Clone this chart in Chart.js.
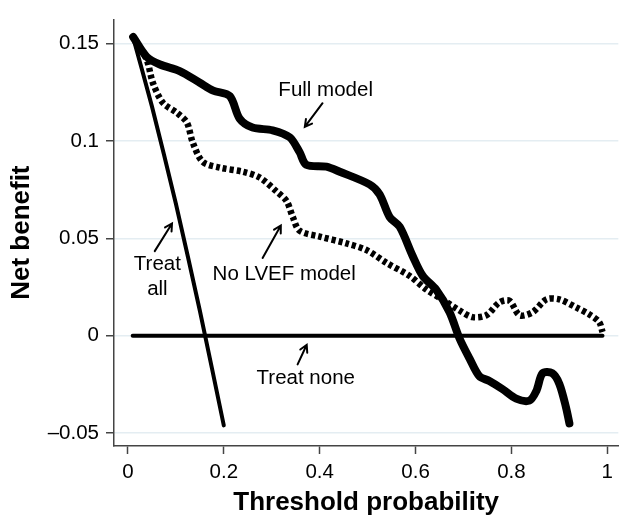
<!DOCTYPE html>
<html>
<head>
<meta charset="utf-8">
<script src="https://cdn.jsdelivr.net/npm/chart.js@4.4.1/dist/chart.umd.min.js"></script>
<style>
  html, body { margin: 0; padding: 0; background: #fff; }
  #wrap { width: 619px; height: 516px; position: relative; }
</style>
</head>
<body>
<div id="wrap"><canvas id="myChart"></canvas></div>
<script>
// tick labels
var xTicks = [0, 0.2, 0.4, 0.6, 0.8, 1]
var xTickLabels = ['0', '0.2', '0.4', '0.6', '0.8', '1']
var yTicks = [-0.05, 0, 0.05, 0.1, 0.15]
var yTickLabels = ['\u20130.05', '0', '0.05', '0.1', '0.15']

// series
var fullX = [0.011, 0.039, 0.067, 0.108, 0.15, 0.178, 0.2125, 0.233, 0.26, 0.302, 0.3375, 0.358, 0.372, 0.414, 0.442, 0.504, 0.525, 0.546, 0.567, 0.594, 0.615, 0.643, 0.671, 0.692, 0.7125, 0.733, 0.754, 0.781, 0.81, 0.8375, 0.852, 0.865, 0.885, 0.9, 0.914, 0.921]
var fullY = [0.1535, 0.1434, 0.1394, 0.136, 0.130, 0.126, 0.1232, 0.1116, 0.107, 0.1056, 0.102, 0.0944, 0.0879, 0.0869, 0.0843, 0.0778, 0.0727, 0.061, 0.056, 0.041, 0.0308, 0.0237, 0.0121, -0.0015, -0.0116, -0.0207, -0.0232, -0.0273, -0.0323, -0.0333, -0.0283, -0.0192, -0.0192, -0.0247, -0.0369, -0.045]

var lvefX = [0.011, 0.039, 0.052, 0.073, 0.102, 0.123, 0.135, 0.156, 0.192, 0.24, 0.275, 0.31, 0.331, 0.344, 0.358, 0.4, 0.456, 0.498, 0.54, 0.5875, 0.623, 0.656, 0.692, 0.719, 0.748, 0.775, 0.796, 0.817, 0.844, 0.873, 0.9, 0.935, 0.9625, 0.983, 0.99]
var lvefY = [0.1535, 0.142, 0.130, 0.1197, 0.1146, 0.1096, 0.0995, 0.0894, 0.0864, 0.0843, 0.0813, 0.0742, 0.0692, 0.061, 0.054, 0.051, 0.0475, 0.044, 0.0374, 0.0308, 0.0237, 0.0187, 0.013, 0.0096, 0.0106, 0.0172, 0.018, 0.0106, 0.0121, 0.0187, 0.0187, 0.0146, 0.011, 0.0071, 0.002]

var allX = [0.01, 0.05, 0.10, 0.15, 0.20]
var allY = [0.154, 0.118, 0.068, 0.013, -0.046]

var noneX = [0.01, 0.99]
var noneY = [0, 0]

// labels: text, text x/y, arrow tail x/y, arrow tip x/y (data units)
var notes = [
  { text: ['Full model'], x: 0.4125, y: 0.126, ax: 0.406, ay: 0.1195, bx: 0.369, by: 0.1073 },
  { text: ['No LVEF model'], x: 0.326, y: 0.0314, ax: 0.281, ay: 0.040, bx: 0.319, by: 0.0567 },
  { text: ['Treat', 'all'], x: 0.0615, y: 0.0365, ax: 0.056, ay: 0.0435, bx: 0.092, by: 0.0577 },
  { text: ['Treat none'], x: 0.371, y: -0.0218, ax: 0.354, ay: -0.0147, bx: 0.373, by: -0.0046 }
]

function pares(xs, ys) {
  return xs.map(function (v, i) { return { x: v, y: ys[i] } })
}

var notasPlugin = {
  id: 'notas',
  afterDatasetsDraw: function (chart) {
    var c = chart.ctx
    var sx = chart.scales.x
    var sy = chart.scales.y
    c.save()
    c.fillStyle = '#000'
    c.strokeStyle = '#000'
    c.font = '20.5px "Liberation Sans", Arial, sans-serif'
    c.textAlign = 'center'
    c.textBaseline = 'middle'
    notes.forEach(function (n) {
      var px = sx.getPixelForValue(n.x)
      var py = sy.getPixelForValue(n.y)
      n.text.forEach(function (t, i) {
        c.fillText(t, px, py + i * 25)
      })
      var x1 = sx.getPixelForValue(n.ax), y1 = sy.getPixelForValue(n.ay)
      var x2 = sx.getPixelForValue(n.bx), y2 = sy.getPixelForValue(n.by)
      c.lineWidth = 2
      c.lineCap = 'round'
      c.beginPath()
      c.moveTo(x1, y1)
      c.lineTo(x2, y2)
      var ang = Math.atan2(y2 - y1, x2 - x1)
      c.moveTo(x2 - 8 * Math.cos(ang - 0.5), y2 - 8 * Math.sin(ang - 0.5))
      c.lineTo(x2, y2)
      c.lineTo(x2 - 8 * Math.cos(ang + 0.5), y2 - 8 * Math.sin(ang + 0.5))
      c.stroke()
    })
    c.restore()
  }
}

const ctx = document.getElementById('myChart')

new Chart(ctx, {
  type: 'line',
  data: {
    datasets: [
      { label: 'Treat none', data: pares(noneX, noneY), borderColor: '#000', borderWidth: 4, borderCapStyle: 'round', pointRadius: 0, tension: 0 },
      { label: 'Treat all', data: pares(allX, allY), borderColor: '#000', borderWidth: 4, borderCapStyle: 'round', pointRadius: 0, tension: 0.2 },
      { label: 'No LVEF model', data: pares(lvefX, lvefY), borderColor: '#000', borderWidth: 6.5, borderDash: [4, 3], pointRadius: 0, tension: 0.3 },
      { label: 'Full model', data: pares(fullX, fullY), borderColor: '#000', borderWidth: 8, borderCapStyle: 'round', borderJoinStyle: 'round', pointRadius: 0, tension: 0.3 }
    ]
  },
  options: {
    responsive: true,
    maintainAspectRatio: false,
    animation: false,
    events: [],
    layout: { padding: { top: 13, right: 0, left: 0, bottom: 0 } },
    plugins: {
      legend: { display: false },
      tooltip: { enabled: false }
    },
    scales: {
      x: {
        type: 'linear',
        min: -0.029,
        max: 1.023,
        afterBuildTicks: function (s) { s.ticks = xTicks.map(function (v) { return { value: v } }) },
        afterFit: function (s) { s.height = 70 },
        ticks: {
          color: '#000',
          padding: 6,
          maxRotation: 0,
          font: { family: '"Liberation Sans", Arial, sans-serif', size: 20.5 },
          callback: function (v) { return xTickLabels[xTicks.indexOf(v)] }
        },
        grid: { drawOnChartArea: false, drawTicks: true, tickLength: 8, tickColor: '#444', tickWidth: 1.5 },
        border: { color: '#444', width: 1.5 },
        title: {
          display: true,
          text: 'Threshold probability',
          color: '#000',
          padding: { top: 0, bottom: 0 },
          font: { family: '"Liberation Sans", Arial, sans-serif', size: 26, weight: 'bold', lineHeight: 1 }
        }
      },
      y: {
        type: 'linear',
        min: -0.0566,
        max: 0.1626,
        afterBuildTicks: function (s) { s.ticks = yTicks.map(function (v) { return { value: v } }) },
        afterFit: function (s) { s.width = 114 },
        ticks: {
          color: '#000',
          padding: 7,
          font: { family: '"Liberation Sans", Arial, sans-serif', size: 20.5 },
          callback: function (v) { return yTickLabels[yTicks.indexOf(v)] }
        },
        grid: { color: '#e4edf2', lineWidth: 1.5, tickLength: 8, tickColor: '#444', tickWidth: 1.5 },
        border: { color: '#444', width: 1.5 },
        title: {
          display: true,
          text: 'Net benefit',
          color: '#000',
          padding: { top: 9, bottom: 0 },
          font: { family: '"Liberation Sans", Arial, sans-serif', size: 26, weight: 'bold', lineHeight: 1 }
        }
      }
    }
  },
  plugins: [notasPlugin]
})
</script>
</body>
</html>
